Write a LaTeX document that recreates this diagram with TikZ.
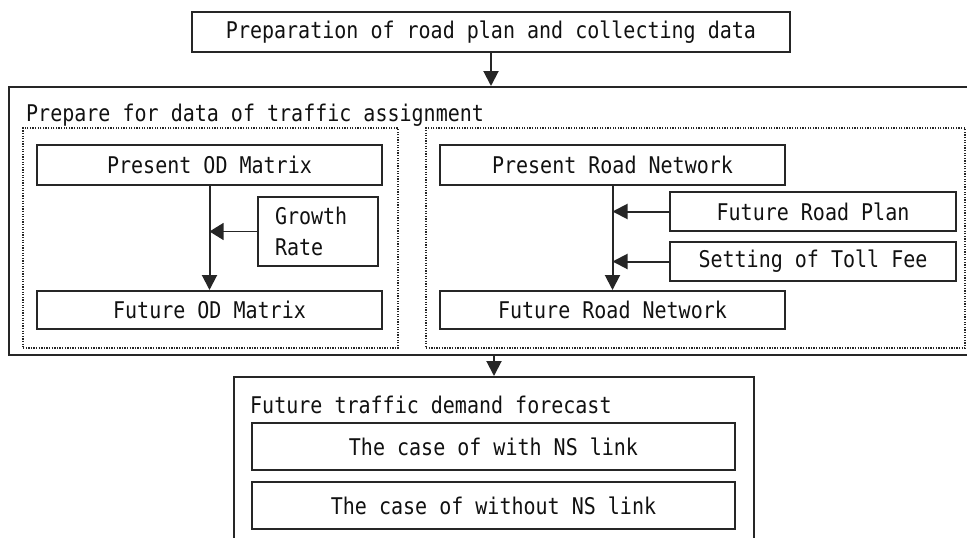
\documentclass[tikz,border=0pt]{standalone}
\usepackage{fontspec}
\usetikzlibrary{arrows.meta}
\newfontfamily\gfont[FakeStretch=0.87]{DejaVu Sans Mono}
\definecolor{ln}{HTML}{262626}
\definecolor{tx}{HTML}{111111}
\tikzset{
  box/.style={draw=ln, line width=2pt, rectangle, inner sep=0pt, text=tx},
  thinbox/.style={draw=ln, line width=1.1pt, rectangle, inner sep=0pt, text=tx},
  dotbox/.style={draw=ln, line width=1.4pt, rectangle, inner sep=0pt, dash pattern=on 1.3pt off 1.3pt},
  lbl/.style={inner sep=0pt, text=tx, anchor=west},
  arr/.style={draw=ln, line width=2pt, -{Triangle[width=15pt,length=15pt]}},
  thinarr/.style={draw=ln, line width=1.1pt, -{Triangle[width=17pt,length=14pt]}}
}
\begin{document}
\begin{tikzpicture}[x=1pt,y=-1pt, every node/.style={font=\gfont\fontsize{23}{31}\selectfont}]
\clip (0,0) rectangle (967,538);
\fill[white] (0,0) rectangle (967,538);
% top box
\node[box, minimum width=598, minimum height=40] (top) at (491,32) {Preparation of road plan and collecting data};
% big box
\node[box, minimum width=991, minimum height=268] (big) at (504.5,221) {};
\node[lbl] (bigtitle) at (26,115) {Prepare for data of traffic assignment};
% dotted groups
\node[dotbox, minimum width=375, minimum height=220] (ldot) at (210.5,238) {};
\node[dotbox, minimum width=539, minimum height=220] (rdot) at (695.5,238) {};
% left group
\node[box, minimum width=345, minimum height=40] (presOD) at (209.5,165) {Present OD Matrix};
\node[thinbox, minimum width=120, minimum height=69, align=left, text width=86] (growth) at (318,231.5) {Growth\\Rate};
\node[box, minimum width=345, minimum height=38] (futOD) at (209.5,310) {Future OD Matrix};
% right group
\node[box, minimum width=345, minimum height=40] (presRN) at (612.5,165) {Present Road Network};
\node[box, minimum width=286, minimum height=39] (plan) at (813,211.5) {Future Road Plan};
\node[box, minimum width=286, minimum height=39] (toll) at (813,261.5) {Setting of Toll Fee};
\node[box, minimum width=345, minimum height=38] (futRN) at (612.5,310) {Future Road Network};
% bottom box
\node[box, minimum width=520, minimum height=183] (bot) at (494,468.5) {};
\node[lbl] (bottitle) at (250,405) {Future traffic demand forecast};
\node[box, minimum width=483, minimum height=47] (case1) at (493.5,446.5) {The case of with NS link};
\node[box, minimum width=483, minimum height=47] (case2) at (493.5,505.5) {The case of without NS link};
% connectors
\draw[arr] (top.south) -- (top.south |- big.north);
\draw[arr] (big.south -| bot.north) -- (bot.north);
\draw[arr] (presOD.south) -- (futOD.north);
\draw[thinarr] (growth.west) -- (growth.west -| presOD.south);
\draw[arr] (presRN.south) -- (futRN.north);
\draw[arr] (plan.west) -- (plan.west -| presRN.south);
\draw[arr] (toll.west) -- (toll.west -| presRN.south);
\end{tikzpicture}
\end{document}
